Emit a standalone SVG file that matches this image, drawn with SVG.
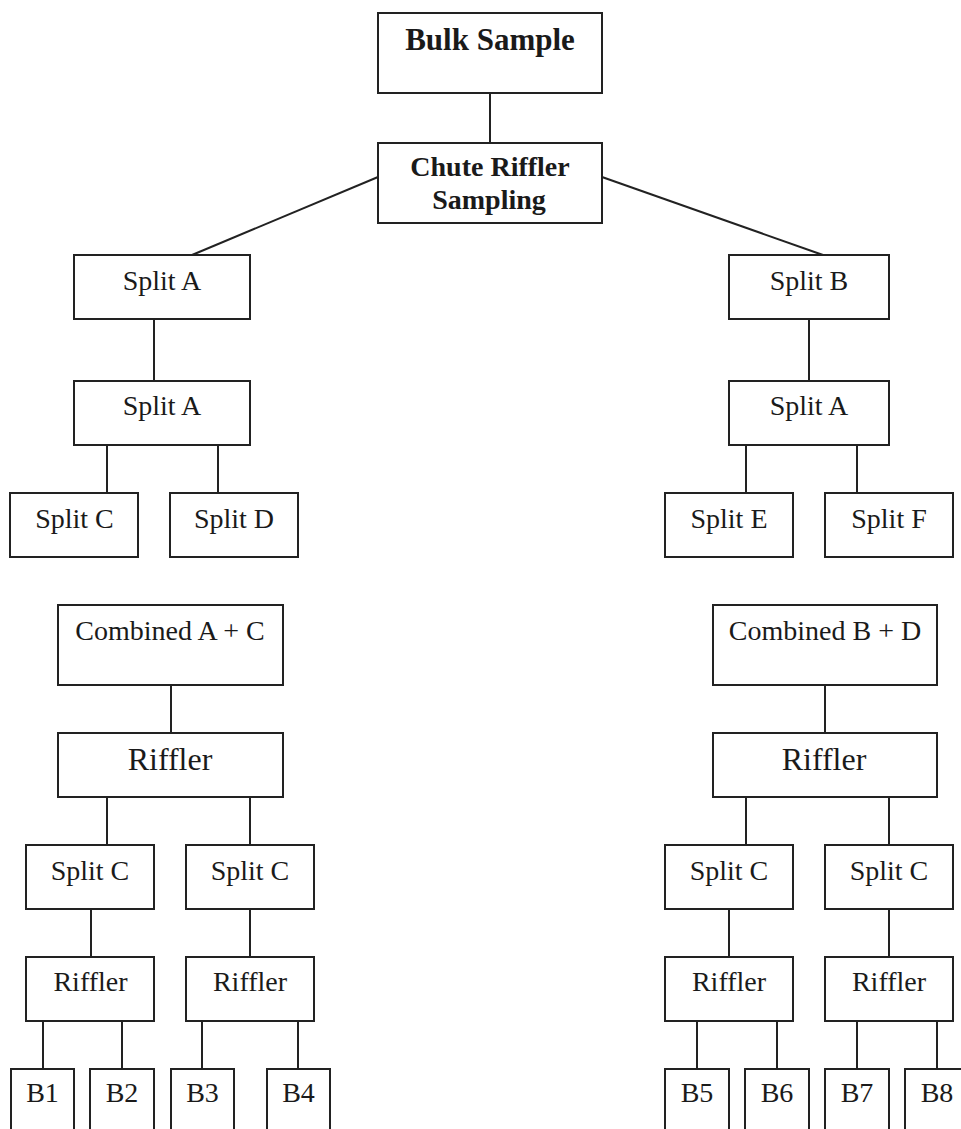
<svg xmlns="http://www.w3.org/2000/svg" width="961" height="1129" viewBox="0 0 961 1129">
<style>
rect{fill:#fff;stroke:#222;stroke-width:2}
.c line{stroke:#222;stroke-width:2}
text{font-family:"Liberation Serif","Times New Roman",serif;fill:#1a1a1a;text-anchor:middle;font-size:28px}
.b{font-weight:bold}
.t{font-size:31px}
.r{font-size:32px}
</style>
<rect x="0" y="0" width="961" height="1129" style="fill:#fff;stroke:none"/>
<g class="c" id="connectors">
<line x1="490" y1="93" x2="490" y2="143"/>
<line x1="378" y1="177" x2="192" y2="255"/>
<line x1="602" y1="177" x2="823" y2="255"/>
<line x1="154" y1="319" x2="154" y2="381"/>
<line x1="107" y1="445" x2="107" y2="493"/>
<line x1="218" y1="445" x2="218" y2="493"/>
<line x1="809" y1="319" x2="809" y2="381"/>
<line x1="746" y1="445" x2="746" y2="493"/>
<line x1="857" y1="445" x2="857" y2="493"/>
<line x1="171" y1="685" x2="171" y2="733"/>
<line x1="107" y1="797" x2="107" y2="845"/>
<line x1="250" y1="797" x2="250" y2="845"/>
<line x1="91" y1="909" x2="91" y2="957"/>
<line x1="250" y1="909" x2="250" y2="957"/>
<line x1="43" y1="1021" x2="43" y2="1069"/>
<line x1="122" y1="1021" x2="122" y2="1069"/>
<line x1="202" y1="1021" x2="202" y2="1069"/>
<line x1="298" y1="1021" x2="298" y2="1069"/>
<line x1="825" y1="685" x2="825" y2="733"/>
<line x1="746" y1="797" x2="746" y2="845"/>
<line x1="889" y1="797" x2="889" y2="845"/>
<line x1="729" y1="909" x2="729" y2="957"/>
<line x1="889" y1="909" x2="889" y2="957"/>
<line x1="697" y1="1021" x2="697" y2="1069"/>
<line x1="777" y1="1021" x2="777" y2="1069"/>
<line x1="857" y1="1021" x2="857" y2="1069"/>
<line x1="937" y1="1021" x2="937" y2="1069"/>
</g>
<g id="bulk"><rect x="378" y="13" width="224" height="80"/><text class="b t" x="490" y="50">Bulk Sample</text></g>
<g id="chute"><rect x="378" y="143" width="224" height="80"/><text class="b" x="490" y="176">Chute Riffler</text><text class="b" x="489" y="209">Sampling</text></g>
<g id="splitA1"><rect x="74" y="255" width="176" height="64"/><text x="162" y="290">Split A</text></g>
<g id="splitB1"><rect x="729" y="255" width="160" height="64"/><text x="809" y="290">Split B</text></g>
<g id="splitA2"><rect x="74" y="381" width="176" height="64"/><text x="162" y="415">Split A</text></g>
<g id="splitA3"><rect x="729" y="381" width="160" height="64"/><text x="809" y="415">Split A</text></g>
<g id="splitC1"><rect x="10" y="493" width="128" height="64"/><text x="74.5" y="528">Split C</text></g>
<g id="splitD1"><rect x="170" y="493" width="128" height="64"/><text x="234" y="528">Split D</text></g>
<g id="splitE1"><rect x="665" y="493" width="128" height="64"/><text x="729" y="528">Split E</text></g>
<g id="splitF1"><rect x="825" y="493" width="128" height="64"/><text x="889" y="528">Split F</text></g>
<g id="combAC"><rect x="58" y="605" width="225" height="80"/><text x="170" y="640">Combined A + C</text></g>
<g id="combBD"><rect x="713" y="605" width="224" height="80"/><text x="825" y="640">Combined B + D</text></g>
<g id="rifL"><rect x="58" y="733" width="225" height="64"/><text class="r" x="170" y="770">Riffler</text></g>
<g id="rifR"><rect x="713" y="733" width="224" height="64"/><text class="r" x="824" y="770">Riffler</text></g>
<g id="sc1"><rect x="26" y="845" width="128" height="64"/><text x="90" y="880">Split C</text></g>
<g id="sc2"><rect x="186" y="845" width="128" height="64"/><text x="250" y="880">Split C</text></g>
<g id="sc3"><rect x="665" y="845" width="128" height="64"/><text x="729" y="880">Split C</text></g>
<g id="sc4"><rect x="825" y="845" width="128" height="64"/><text x="889" y="880">Split C</text></g>
<g id="r1"><rect x="26" y="957" width="128" height="64"/><text x="90.5" y="991">Riffler</text></g>
<g id="r2"><rect x="186" y="957" width="128" height="64"/><text x="250" y="991">Riffler</text></g>
<g id="r3"><rect x="665" y="957" width="128" height="64"/><text x="729" y="991">Riffler</text></g>
<g id="r4"><rect x="825" y="957" width="128" height="64"/><text x="889" y="991">Riffler</text></g>
<g id="b1"><rect x="11" y="1069" width="63" height="70"/><text x="42.5" y="1102">B1</text></g>
<g id="b2"><rect x="90" y="1069" width="64" height="70"/><text x="122" y="1102">B2</text></g>
<g id="b3"><rect x="171" y="1069" width="63" height="70"/><text x="202.5" y="1102">B3</text></g>
<g id="b4"><rect x="267" y="1069" width="63" height="70"/><text x="298.5" y="1102">B4</text></g>
<g id="b5"><rect x="665" y="1069" width="64" height="70"/><text x="697" y="1102">B5</text></g>
<g id="b6"><rect x="745" y="1069" width="64" height="70"/><text x="777" y="1102">B6</text></g>
<g id="b7"><rect x="825" y="1069" width="64" height="70"/><text x="857" y="1102">B7</text></g>
<g id="b8"><rect x="905" y="1069" width="64" height="70"/><text x="937" y="1102">B8</text></g>
</svg>
